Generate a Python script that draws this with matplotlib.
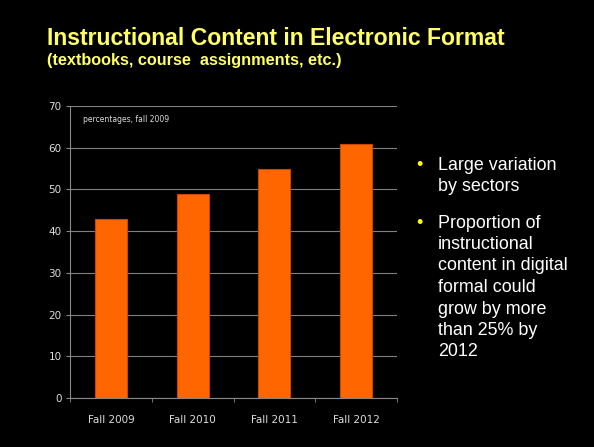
import matplotlib.pyplot as plt
import numpy as np

categories = ['Fall 2009', 'Fall 2010', 'Fall 2011', 'Fall 2012']
values = [43, 49, 55, 61]
y_ticks = [0, 10, 20, 30, 40, 50, 60, 70]

fig = plt.figure(figsize=(5.94, 4.47), dpi=100)
fig.patch.set_facecolor('black')

W, H = 594, 447
# axes box in pixels: left 70, right 397, top 106, bottom 398
ax = fig.add_axes([70 / W, 1 - 398 / H, (397 - 70) / W, (398 - 106) / H])
ax.set_facecolor('black')

x = np.arange(len(categories))
ax.bar(x, values, width=0.39, color='#FF6600', edgecolor='#C84800', linewidth=0.8, zorder=3)

ax.set_xlim(-0.5, len(categories) - 0.5)
ax.set_ylim(0, 70)
ax.set_yticks(y_ticks)
ax.set_yticklabels([str(v) for v in y_ticks], color='#DDDDDD', fontsize=7.5)
ax.set_xticks(x)
ax.set_xticklabels(categories, color='#DDDDDD', fontsize=7.5)
ax.tick_params(axis='x', length=0, pad=12)
ax.tick_params(axis='y', length=3, color='#888888', pad=3)
ax.set_xticks(np.arange(len(categories) + 1) - 0.5, minor=True)
ax.tick_params(axis='x', which='minor', length=3, color='#888888')

ax.grid(axis='y', color='#808080', linewidth=0.8, zorder=0)
for side in ['top', 'right']:
    ax.spines[side].set_visible(False)
for side in ['left', 'bottom']:
    ax.spines[side].set_color('#888888')
    ax.spines[side].set_linewidth(0.8)

ax.text(0.04, 0.955, 'percentages, fall 2009', transform=ax.transAxes,
        color='#DDDDDD', fontsize=5.5, va='center', ha='left')

fig.text(47 / W, 1 - 45 / H, 'Instructional Content in Electronic Format',
         color='#FFFF66', fontsize=16.6, fontweight='bold', family='Liberation Sans',
         ha='left', va='baseline')
fig.text(47 / W, 1 - 65 / H, '(textbooks, course  assignments, etc.)',
         color='#FFFF66', fontsize=11.7, fontweight='bold', family='Liberation Sans',
         ha='left', va='baseline')

bullets = [
    ['Large variation', 'by sectors'],
    ['Proportion of', 'instructional', 'content in digital', 'formal could',
     'grow by more', 'than 25% by', '2012'],
]
starts = [165, 223]
line_h = 21.5
for lines, y0 in zip(bullets, starts):
    fig.text(419 / W, 1 - y0 / H, '\u2022', color='#FFFF00', fontsize=13,
             family='Liberation Sans', ha='center', va='center')
    for i, line in enumerate(lines):
        fig.text(438 / W, 1 - (y0 + i * line_h) / H, line, color='white',
                 fontsize=12.9, family='Liberation Sans', ha='left', va='center')

fig.savefig('out.png', dpi=100, facecolor='black')
